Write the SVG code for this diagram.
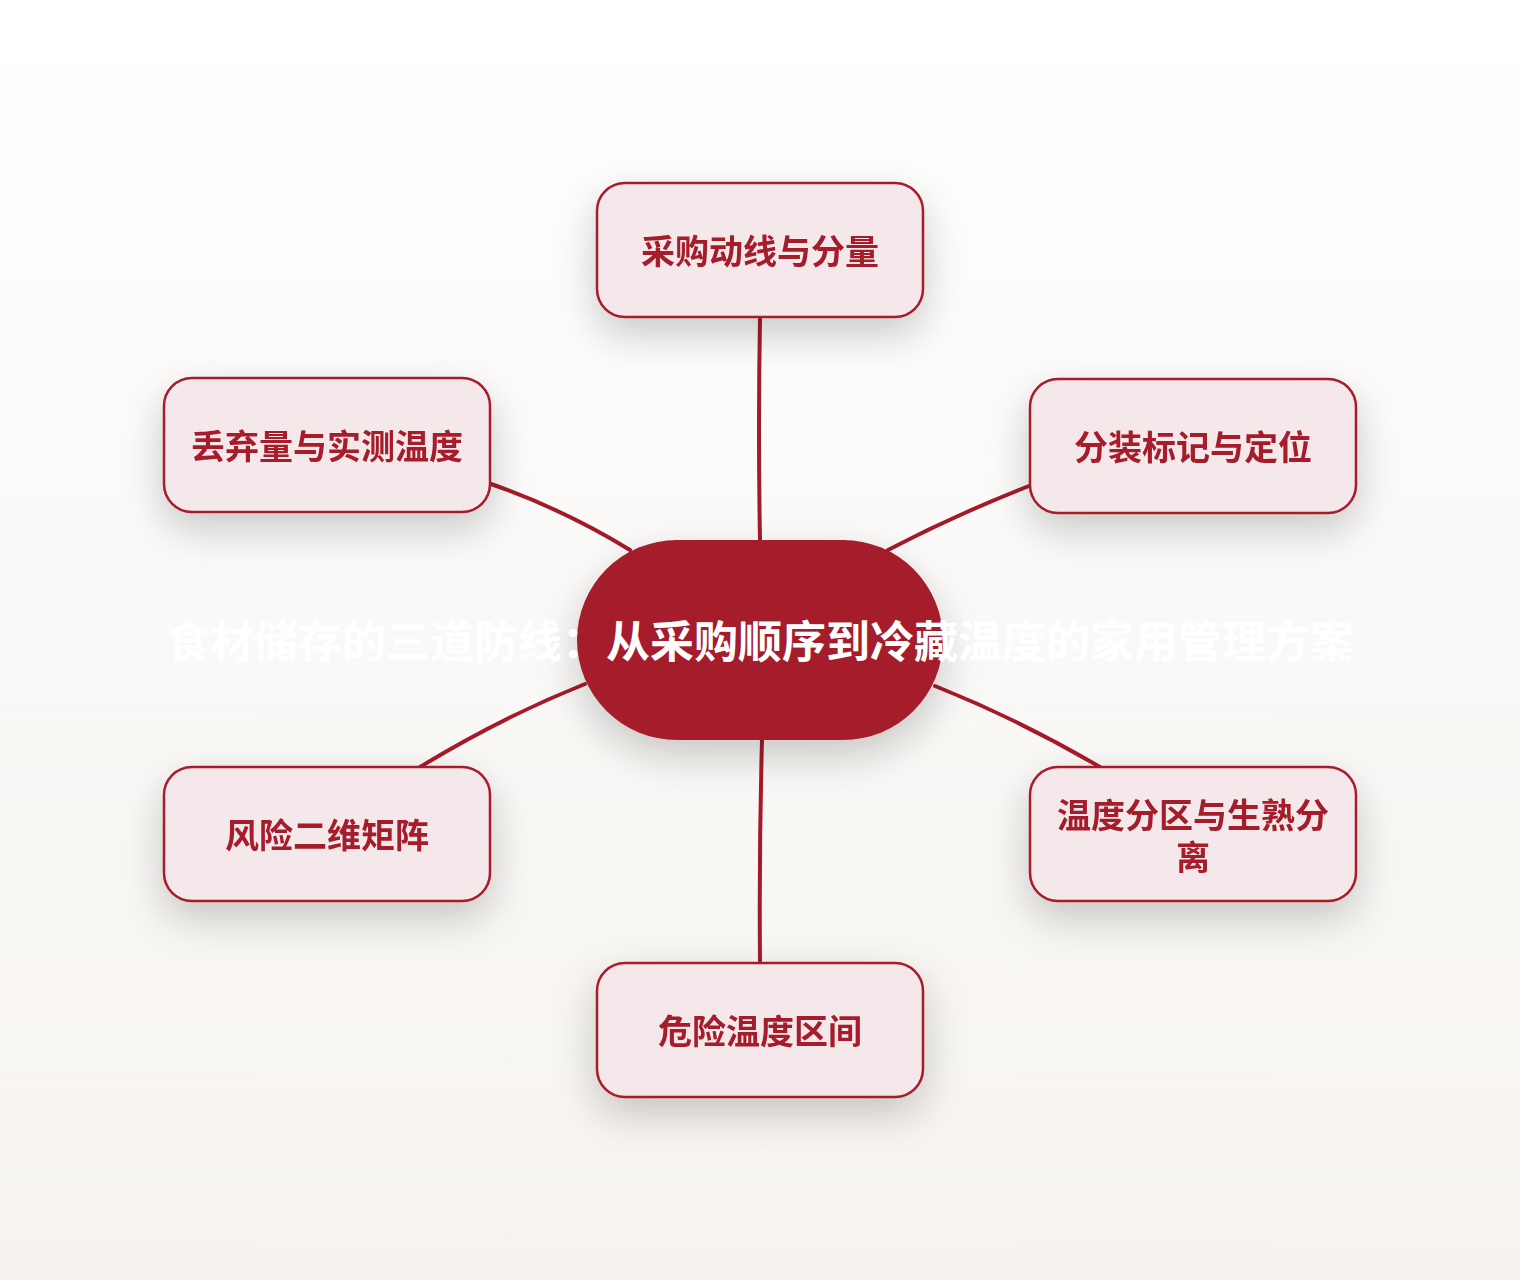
<svg xmlns="http://www.w3.org/2000/svg" width="1520" height="1280" viewBox="0 0 1520 1280">
<defs>
<linearGradient id="bg" x1="0" y1="0" x2="0" y2="1">
<stop offset="0" stop-color="#FFFFFF"/>
<stop offset="1" stop-color="#F6F3EF"/>
</linearGradient>
<filter id="sh" x="-40%" y="-40%" width="180%" height="200%">
<feDropShadow dx="0" dy="16" stdDeviation="20" flood-color="#000" flood-opacity="0.2"/>
</filter>
<style>
.node rect{fill:#F5E8EB;stroke:#A51A2A;stroke-width:2.5}
.node text{fill:#A51A2A;font-family:"Noto Sans CJK SC","Noto Sans",sans-serif;font-weight:700;font-size:34px;text-anchor:middle}
.conn path{fill:none;stroke:#A51A2A;stroke-width:4;stroke-linecap:round}
.title{fill:#FFFFFF;font-family:"Noto Sans CJK SC","Noto Sans",sans-serif;font-weight:700;font-size:44px;text-anchor:middle}
</style>
</defs>
<rect width="1520" height="1280" fill="url(#bg)"/>
<g id="connectors" class="conn">
<path d="M760 318 Q758 430 760 540"/>
<path d="M491 484 Q565 510 630 550"/>
<path d="M1029 486 Q955 515 888 550"/>
<path d="M585 684 Q500 718 420 767"/>
<path d="M935 686 Q1020 720 1100 767"/>
<path d="M762 740 Q759 850 760 963"/>
</g>
<g id="n1" class="node" filter="url(#sh)"><rect x="597" y="183" width="326" height="134" rx="28"/><text x="760" y="264">采购动线与分量</text></g>
<g id="n2" class="node" filter="url(#sh)"><rect x="1030" y="379" width="326" height="134" rx="28"/><text x="1193" y="460">分装标记与定位</text></g>
<g id="n3" class="node" filter="url(#sh)"><rect x="1030" y="767" width="326" height="134" rx="28"/><text x="1193" y="828">温度分区与生熟分</text><text x="1193" y="870">离</text></g>
<g id="n4" class="node" filter="url(#sh)"><rect x="597" y="963" width="326" height="134" rx="28"/><text x="760" y="1044">危险温度区间</text></g>
<g id="n5" class="node" filter="url(#sh)"><rect x="164" y="767" width="326" height="134" rx="28"/><text x="327" y="848">风险二维矩阵</text></g>
<g id="n6" class="node" filter="url(#sh)"><rect x="164" y="378" width="326" height="134" rx="28"/><text x="327" y="459">丢弃量与实测温度</text></g>
<g id="center" filter="url(#sh)"><rect x="577" y="540" width="366" height="200" rx="100" fill="#A51A2A"/></g>
<text class="title" x="760" y="658">食材储存的三道防线：从采购顺序到冷藏温度的家用管理方案</text>
</svg>
